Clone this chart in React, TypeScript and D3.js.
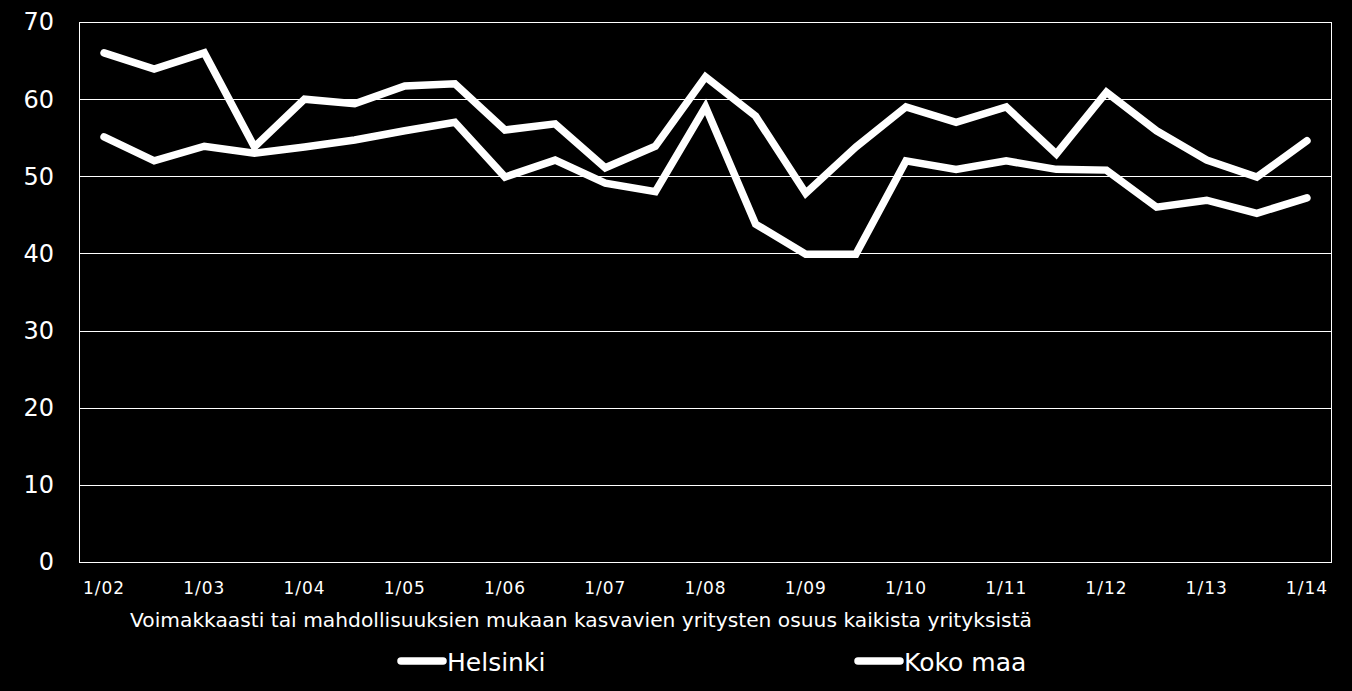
import React from "react";
import * as d3 from "d3";

const categories = [
  "1/02", "", "1/03", "", "1/04", "", "1/05", "", "1/06", "", "1/07", "", "1/08", "",
  "1/09", "", "1/10", "", "1/11", "", "1/12", "", "1/13", "", "1/14",
];
const helsinki = [66, 63.9, 66, 53.8, 60, 59.4, 61.7, 62, 56, 56.8, 51.1, 53.9, 62.9, 57.8,
  47.8, 53.8, 59, 57, 59, 52.9, 60.9, 55.9, 52.1, 49.9, 54.6];
const kokoMaa = [55.1, 52, 53.9, 53, 53.8, 54.7, 55.9, 57, 49.9, 52.1, 49.1, 48, 59, 43.8,
  39.9, 39.9, 52, 50.9, 52, 50.9, 50.8, 46, 46.9, 45.2, 47.2];
const yTicks = [0, 10, 20, 30, 40, 50, 60, 70];
const seriesNames = ["Helsinki", "Koko maa"];
const title = "Voimakkaasti tai mahdollisuuksien mukaan kasvavien yritysten osuus kaikista yrityksistä";

export default function App() {
  const W = 1352, H = 691;
  const left = 79, right = 1332, top = 22, bottom = 562;
  const idx = categories.map((_, i) => String(i));
  const x = d3.scaleBand().domain(idx).range([left, right]).padding(0);
  const y = d3.scaleLinear().domain([0, 70]).range([bottom, top]);
  const line = d3.line<number>()
    .x((_, i) => (x(String(i)) as number) + x.bandwidth() / 2)
    .y((d) => y(d));
  const font = "Tahoma, 'DejaVu Sans', sans-serif";
  const series = [helsinki, kokoMaa];
  const legendX = [398, 855];
  return (
    <div style={{ position: "fixed", left: 0, top: 0, width: W, height: H, background: "#000" }}>
      <svg width={W} height={H} style={{ display: "block" }}>
        <rect x={0} y={0} width={W} height={H} fill="#000" />
        {yTicks.map((t) => (
          <g key={t}>
            <line x1={left} x2={right} y1={Math.round(y(t)) + 0.5} y2={Math.round(y(t)) + 0.5} stroke="#fff" strokeWidth={1} />
            <text x={54} y={y(t)} dy="0.35em" textAnchor="end" fill="#fff" fontFamily={font} fontSize={24}>{t}</text>
          </g>
        ))}
        <line x1={left + 0.5} x2={left + 0.5} y1={top} y2={bottom + 0.5} stroke="#fff" />
        <line x1={right - 0.5} x2={right - 0.5} y1={top} y2={bottom + 0.5} stroke="#fff" />
        {categories.map((c, i) => c ? (
          <text key={i} x={(x(String(i)) as number) + x.bandwidth() / 2} y={588} dy="0.35em" textAnchor="middle"
            fill="#fff" fontFamily={font} fontSize={17} letterSpacing={1}>{c}</text>
        ) : null)}
        <text x={581} y={620} dy="0.35em" textAnchor="middle" fill="#fff" fontFamily={font} fontSize={19}
          textLength={902} lengthAdjust="spacingAndGlyphs">{title}</text>
        {series.map((s, k) => (
          <path key={k} d={line(s) || ""} fill="none" stroke="#fff" strokeWidth={7.5}
            strokeLinecap="round" strokeLinejoin="miter" />
        ))}
        {seriesNames.map((n, k) => (
          <g key={n}>
            <line x1={legendX[k] + 3} x2={legendX[k] + 45} y1={661} y2={661} stroke="#fff" strokeWidth={7.5} strokeLinecap="round" />
            <text x={legendX[k] + 49} y={662} dy="0.35em" fill="#fff" fontFamily={font} fontSize={25}>{n}</text>
          </g>
        ))}
      </svg>
    </div>
  );
}
